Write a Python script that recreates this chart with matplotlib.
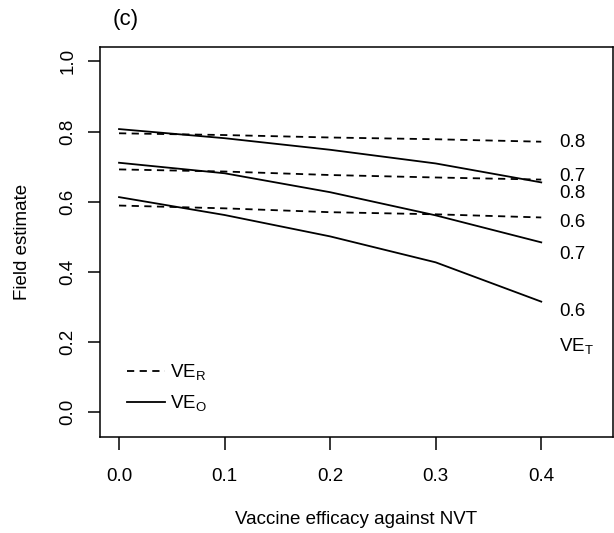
import matplotlib
matplotlib.use('Agg')
import matplotlib.pyplot as plt
from matplotlib.lines import Line2D

plt.rcParams['font.family'] = ['Liberation Sans', 'DejaVu Sans']
plt.rcParams['mathtext.fontset'] = 'custom'
plt.rcParams['mathtext.rm'] = 'Liberation Sans'
plt.rcParams['font.size'] = 13.5

# vaccine efficacy against NVT
ve_nvt = [0.0, 0.1, 0.2, 0.3, 0.4]

# VE_R (dashed) for VE_T = 0.8, 0.7, 0.6
ve_r_08 = [0.795, 0.790, 0.783, 0.778, 0.771]
ve_r_07 = [0.692, 0.686, 0.676, 0.669, 0.663]
ve_r_06 = [0.589, 0.581, 0.570, 0.564, 0.555]

# VE_O (solid) for VE_T = 0.8, 0.7, 0.6
ve_o_08 = [0.807, 0.781, 0.748, 0.709, 0.655]
ve_o_07 = [0.711, 0.681, 0.627, 0.561, 0.484]
ve_o_06 = [0.613, 0.562, 0.501, 0.427, 0.315]

# right-hand labels: (text, y position)
end_labels = ['0.8', '0.7', '0.8', '0.6', '0.7', '0.6']
end_label_y = [0.769, 0.673, 0.623, 0.541, 0.449, 0.288]

fig = plt.figure(figsize=(6.14, 5.33), dpi=100)
ax = fig.add_axes([0.1629, 0.1801, 0.8355, 0.7317])

dash = (0, (4, 3))
lw = 1.3
for ys in [ve_r_08, ve_r_07, ve_r_06]:
    ax.plot(ve_nvt, ys, color='black', lw=lw, linestyle=dash)
for ys in [ve_o_08, ve_o_07, ve_o_06]:
    ax.plot(ve_nvt, ys, color='black', lw=lw, linestyle='-')

for txt, y in zip(end_labels, end_label_y):
    ax.text(0.417, y, txt, ha='left', va='center')
ax.text(0.417, 0.187, r'$\mathrm{VE}_\mathrm{T}$', ha='left', va='center')

ax.set_xlim(-0.018, 0.468)
ax.set_ylim(-0.071, 1.041)
ax.set_xticks(ve_nvt)
ax.set_xticklabels(['0.0', '0.1', '0.2', '0.3', '0.4'])
ax.set_yticks([0.0, 0.2, 0.4, 0.6, 0.8, 1.0])
ax.set_yticklabels(['0.0', '0.2', '0.4', '0.6', '0.8', '1.0'], rotation=90, va='center')
ax.tick_params(direction='out', length=9, width=1.1, colors='black')
ax.tick_params(axis='x', pad=13)
ax.tick_params(axis='y', pad=8)
for s in ax.spines.values():
    s.set_linewidth(1.1)

ax.set_xlabel('Vaccine efficacy against NVT')
ax.set_ylabel('Field estimate')
ax.xaxis.set_label_coords(0.5, -0.19)
ax.yaxis.set_label_coords(-0.135, 0.5)

handles = [Line2D([], [], color='black', lw=lw, linestyle=dash),
           Line2D([], [], color='black', lw=lw, linestyle='-')]
ax.legend(handles, [r'$\mathrm{VE}_\mathrm{R}$', r'$\mathrm{VE}_\mathrm{O}$'],
          loc='lower left', bbox_to_anchor=(0.02, 0.015), frameon=False,
          handlelength=2.0, handletextpad=0.3, labelspacing=0.6)

fig.text(113 / 614, 1 - 20 / 533, '(c)', ha='left', va='center', fontsize=16)

fig.savefig('out.png', dpi=100)
